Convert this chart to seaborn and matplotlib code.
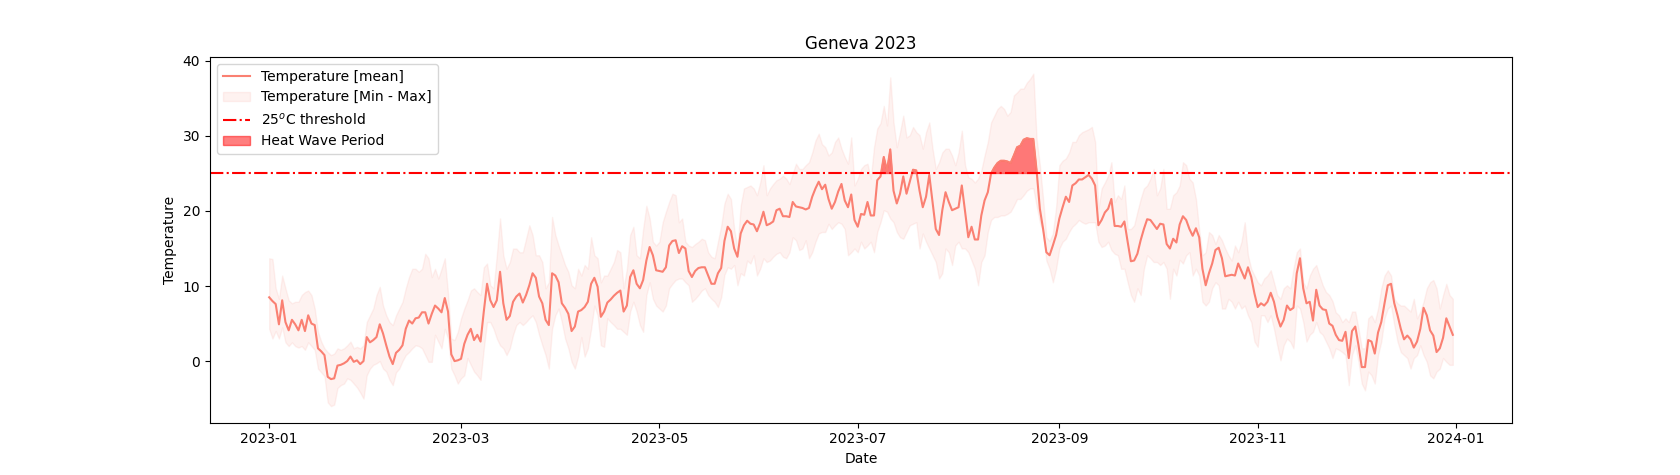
import numpy as np
import pandas as pd
import matplotlib
matplotlib.use("Agg")
import matplotlib.pyplot as plt
import matplotlib.dates as mdates
import seaborn as sns

dates = pd.date_range("2023-01-01", "2023-12-31", freq="D")

temp_mean = [
    8.5, 8.0, 7.6, 4.9, 8.1, 5.2, 4.1, 5.5, 4.9, 4.1,
    5.5, 4.0, 6.1, 5.0, 4.8, 1.7, 1.3, 0.8, -2.1, -2.4,
    -2.3, -0.6, -0.5, -0.3, 0.0, 0.6, -0.1, 0.1, -0.4, 0.0,
    3.2, 2.5, 2.8, 3.2, 4.9, 3.7, 2.1, 0.6, -0.4, 1.1,
    1.5, 2.1, 4.3, 5.4, 5.0, 5.7, 5.8, 6.5, 6.5, 5.0,
    6.3, 7.4, 7.0, 6.5, 8.4, 6.6, 0.9, 0.0, 0.1, 0.3,
    2.3, 3.5, 4.3, 2.8, 3.5, 2.6, 6.6, 10.3, 8.1, 7.2,
    8.1, 11.9, 7.7, 5.5, 6.0, 7.9, 8.6, 9.0, 7.8, 8.8,
    10.1, 11.7, 11.1, 8.6, 7.7, 5.5, 4.8, 11.7, 11.4, 10.5,
    7.7, 7.1, 6.3, 4.0, 4.6, 6.6, 6.8, 7.2, 7.9, 10.3,
    11.1, 9.9, 5.9, 6.6, 7.8, 8.2, 8.7, 9.1, 9.4, 6.6,
    7.4, 11.2, 12.1, 10.3, 9.7, 10.8, 13.4, 15.2, 14.1, 12.1,
    12.0, 11.9, 12.5, 15.4, 16.0, 16.1, 14.4, 15.3, 15.0, 12.0,
    11.2, 12.0, 12.4, 12.5, 12.5, 11.4, 10.3, 10.3, 11.7, 12.4,
    16.0, 17.9, 17.3, 15.0, 13.9, 17.0, 18.1, 18.7, 18.3, 18.2,
    17.3, 18.4, 19.9, 18.1, 18.3, 18.6, 20.1, 20.3, 19.3, 19.3,
    19.2, 21.2, 20.6, 20.5, 20.4, 20.2, 20.4, 21.9, 23.0, 23.9,
    22.9, 23.5, 21.6, 20.3, 21.2, 22.6, 23.6, 21.4, 20.5, 22.2,
    18.8, 17.9, 19.6, 19.5, 21.2, 19.4, 19.4, 24.1, 24.6, 27.2,
    25.4, 28.2, 22.7, 21.0, 22.3, 24.6, 22.3, 23.9, 25.5, 25.4,
    22.7, 20.5, 21.9, 24.8, 21.2, 17.6, 16.8, 20.1, 22.5, 21.2,
    20.1, 20.3, 20.5, 23.4, 19.9, 16.5, 17.9, 16.2, 16.2, 19.4,
    21.4, 22.5, 25.0, 25.8, 26.4, 26.7, 26.7, 26.6, 26.4, 27.4,
    28.5, 28.7, 29.5, 29.7, 29.6, 29.6, 25.4, 20.3, 17.6, 14.5,
    14.1, 15.4, 16.8, 19.0, 20.5, 21.9, 21.2, 23.4, 23.7, 24.2,
    24.2, 24.5, 24.8, 24.3, 23.4, 18.1, 18.8, 19.8, 20.3, 21.6,
    18.0, 18.0, 17.9, 18.6, 15.9, 13.3, 13.4, 14.3, 16.1, 17.6,
    18.9, 18.8, 18.2, 17.6, 18.3, 18.2, 15.6, 15.0, 16.3, 15.8,
    18.2, 19.3, 18.8, 17.6, 16.7, 17.7, 16.5, 12.3, 10.1, 11.7,
    13.0, 14.8, 15.1, 13.7, 11.3, 11.4, 11.5, 11.4, 13.0, 12.0,
    11.0, 12.5, 11.2, 9.0, 7.2, 7.7, 7.4, 7.9, 9.1, 7.9,
    5.9, 4.6, 5.5, 7.4, 6.8, 7.1, 11.7, 13.7, 9.7, 7.7,
    7.9, 5.4, 9.5, 7.4, 6.9, 6.8, 5.0, 4.7, 3.5, 2.8,
    2.7, 3.9, 0.4, 4.0, 4.6, 2.1, -0.8, -0.8, 2.8, 2.6,
    1.0, 3.8, 5.2, 7.7, 10.1, 10.3, 7.7, 6.1, 4.3, 2.9,
    3.4, 2.9, 1.8, 2.6, 4.3, 7.1, 6.1, 4.1, 3.4, 1.2,
    1.7, 3.1, 5.7, 4.6, 3.5,
]

temp_max = [
    13.7, 13.6, 9.7, 8.3, 11.4, 9.7, 8.1, 7.7, 7.9, 7.9,
    8.8, 9.2, 9.4, 8.8, 7.0, 3.9, 2.6, 1.7, 1.2, 0.8,
    1.0, 1.7, 1.5, 1.7, 2.1, 2.6, 1.7, 1.9, 1.7, 2.1,
    5.2, 6.1, 7.0, 8.8, 9.9, 7.4, 6.1, 5.2, 4.8, 6.1,
    7.0, 7.9, 9.7, 11.2, 12.3, 12.3, 11.9, 12.3, 14.3, 13.7,
    11.2, 12.3, 11.0, 12.3, 13.7, 9.0, 3.0, 2.8, 3.9, 5.7,
    7.0, 8.1, 9.4, 9.7, 9.2, 8.8, 12.5, 13.0, 10.1, 9.7,
    14.1, 19.0, 14.1, 12.3, 13.2, 15.0, 15.0, 14.5, 14.5, 16.3,
    18.1, 16.8, 14.1, 14.1, 13.2, 9.7, 10.5, 19.2, 16.8, 15.4,
    14.1, 12.8, 11.9, 10.1, 9.7, 12.3, 11.4, 12.8, 12.3, 16.5,
    14.1, 13.7, 10.5, 11.4, 11.4, 12.3, 13.2, 14.8, 14.5, 9.7,
    12.3, 16.8, 17.9, 14.1, 13.7, 17.6, 20.7, 19.0, 15.9, 15.4,
    15.9, 18.5, 19.9, 21.2, 22.3, 22.1, 18.5, 19.0, 15.9, 15.4,
    15.2, 15.6, 15.9, 16.3, 16.1, 14.5, 13.9, 13.7, 15.9, 18.0,
    21.0, 22.3, 21.6, 17.6, 15.0, 20.7, 23.0, 23.2, 23.4, 23.0,
    22.1, 23.8, 26.1, 22.1, 23.0, 23.6, 24.1, 24.3, 24.7, 24.3,
    23.6, 25.0, 26.3, 25.6, 25.6, 26.1, 26.5, 27.8, 29.4, 30.3,
    28.9, 28.5, 27.4, 27.8, 29.2, 29.8, 28.3, 27.2, 26.3, 29.8,
    23.4, 24.3, 25.6, 26.1, 26.3, 24.3, 28.5, 31.0, 31.7, 34.0,
    31.4, 37.8, 31.8, 28.5, 30.5, 32.7, 29.8, 30.1, 31.2, 30.5,
    30.1, 28.3, 30.5, 31.8, 28.3, 25.6, 26.5, 27.8, 28.3, 28.3,
    27.4, 26.1, 27.8, 30.7, 26.1, 24.5, 24.3, 23.8, 24.3, 25.4,
    27.4, 29.2, 31.8, 32.7, 33.6, 34.0, 33.6, 32.7, 33.2, 35.4,
    35.8, 36.3, 36.3, 37.1, 37.6, 38.3, 29.6, 26.1, 21.6, 16.5,
    16.0, 17.0, 20.5, 26.1, 26.7, 27.0, 27.8, 29.2, 29.2, 30.1,
    30.5, 30.7, 30.9, 31.2, 29.2, 20.3, 23.0, 23.8, 24.7, 26.5,
    21.2, 22.1, 21.6, 23.4, 17.6, 17.6, 18.1, 19.9, 21.6, 23.0,
    23.4, 24.3, 25.6, 22.1, 23.0, 25.6, 20.3, 20.3, 22.1, 22.5,
    23.4, 26.5, 26.1, 24.3, 23.8, 21.6, 17.5, 14.1, 14.5, 17.2,
    16.8, 15.6, 16.8, 16.1, 15.0, 14.1, 13.4, 15.4, 14.5, 15.9,
    18.5, 14.1, 12.3, 11.4, 10.5, 10.1, 11.0, 11.4, 12.1, 10.5,
    8.8, 8.3, 9.7, 10.1, 9.7, 12.3, 14.5, 15.0, 10.5, 9.7,
    11.4, 12.3, 12.8, 11.4, 10.1, 9.2, 8.8, 8.0, 6.5, 6.1,
    5.2, 5.7, 5.2, 6.6, 6.6, 4.3, 1.7, 1.7, 5.7, 6.1,
    5.2, 7.0, 9.7, 11.4, 12.1, 11.4, 8.3, 7.7, 7.4, 7.4,
    7.0, 6.6, 8.3, 5.7, 6.6, 7.9, 9.7, 10.5, 10.8, 9.7,
    7.0, 8.8, 10.3, 8.8, 8.3,
]

temp_min = [
    4.3, 3.0, 4.0, 3.0, 4.5, 2.5, 2.0, 2.5, 2.0, 1.8,
    2.0, 1.5, 2.5, 2.0, 1.5, -1.0, -1.5, -2.0, -5.5, -6.0,
    -5.8, -3.6, -3.2, -3.0, -2.3, -2.5, -3.0, -3.5, -4.2, -5.0,
    -1.9, -1.0, -0.5, -0.3, 0.0, -1.0, -1.4, -2.5, -3.2, -1.5,
    -1.0, 0.0, 0.8, 1.2, 1.7, 2.1, 2.0, 1.7, 0.8, -0.1,
    -0.1, 3.5, 2.6, 1.7, 4.3, 3.0, -1.0, -1.9, -3.0, -2.3,
    -1.9, 0.4, -0.5, -1.4, -1.9, -2.5, 1.7, 5.2, 5.2, 4.3,
    3.0, 2.1, 1.7, 0.8, 1.7, 3.5, 4.8, 5.2, 4.8, 5.2,
    5.7, 6.1, 5.2, 3.5, 2.1, 0.8, -1.0, 4.3, 6.1, 7.0,
    5.2, 3.0, 1.7, -0.1, -1.0, 0.6, 3.2, 0.6, 1.7, 4.3,
    7.4, 6.1, 2.1, 1.9, 5.7, 5.2, 4.8, 4.3, 4.3, 3.9,
    3.5, 6.6, 7.9, 6.6, 4.8, 3.9, 8.8, 10.5, 8.3, 7.4,
    7.0, 6.6, 7.4, 9.7, 10.3, 10.8, 11.0, 11.0, 10.5, 10.1,
    7.9, 8.3, 8.8, 9.4, 9.7, 8.8, 8.3, 7.9, 7.2, 8.5,
    11.5, 12.5, 12.3, 12.8, 10.1, 11.7, 11.4, 13.4, 13.0, 14.1,
    11.4, 12.3, 13.7, 13.2, 13.4, 13.9, 14.3, 14.5, 13.9, 13.7,
    14.5, 16.5, 16.1, 14.8, 15.0, 16.1, 13.7, 14.5, 15.9, 17.0,
    17.2, 17.2, 18.3, 17.6, 18.1, 18.5, 18.3, 17.6, 14.1, 14.5,
    15.0, 14.5, 15.9, 15.0, 15.4, 15.9, 14.5, 17.2, 18.5, 20.1,
    19.9, 19.0, 18.5, 17.2, 16.5, 16.3, 17.2, 18.1, 18.3, 18.5,
    15.0, 17.0, 15.9, 15.0, 14.1, 13.2, 11.0, 11.7, 15.0, 14.5,
    12.8, 15.4, 15.9, 15.0, 15.0, 14.5, 13.4, 12.3, 10.1, 13.2,
    14.1, 17.2, 18.8, 19.2, 19.2, 19.4, 19.4, 19.6, 19.9, 20.7,
    21.6, 21.6, 22.1, 22.7, 23.0, 23.0, 20.7, 18.5, 17.2, 13.4,
    12.3, 10.5, 12.3, 15.0, 15.9, 16.3, 17.2, 17.9, 18.3, 18.8,
    18.5, 18.3, 18.5, 18.5, 18.5, 15.9, 15.2, 15.4, 15.9, 14.8,
    14.3, 14.1, 12.3, 12.3, 10.5, 8.8, 7.9, 9.7, 8.8, 12.3,
    14.1, 13.7, 13.2, 13.2, 12.8, 13.2, 12.3, 8.3, 12.3, 11.4,
    13.5, 13.0, 14.1, 14.5, 11.4, 12.3, 11.4, 7.9, 7.4, 7.9,
    9.7, 10.5, 10.1, 7.0, 7.0, 8.3, 7.9, 7.0, 7.9, 7.0,
    7.4, 6.1, 5.2, 2.6, 1.9, 6.1, 6.1, 5.2, 6.1, 4.3,
    2.1, 0.1, 2.1, 3.0, 2.6, 1.7, 7.4, 7.0, 5.2, 2.6,
    3.5, 3.9, 5.2, 3.9, 3.5, 2.6, 1.7, 0.4, 1.7, 1.5,
    1.2, 0.8, -3.2, 0.8, 2.1, -0.1, -3.0, -3.9, -1.4, -1.9,
    -3.0, 0.8, 2.6, 5.7, 7.0, 7.4, 4.8, 2.6, 1.2, 0.8,
    0.4, -1.0, 0.4, 0.8, 2.1, 0.8, -0.1, -1.9, -2.3, -1.4,
    -1.0, 0.4, -0.1, -0.5, -0.5,
]

threshold = 25
title = "Geneva 2023"

df = pd.DataFrame({"Date": dates, "mean": temp_mean, "min": temp_min, "max": temp_max})

fig, ax = plt.subplots(figsize=(16.8, 4.75), dpi=100)
sns.lineplot(data=df, x="Date", y="mean", color="salmon", linewidth=1.5,
             ax=ax, label="Temperature [mean]")
ax.fill_between(df["Date"], df["min"], df["max"], color="salmon", alpha=0.1,
                label="Temperature [Min - Max]")
ax.axhline(threshold, color="red", linestyle="-.", linewidth=1.5,
           label="25$^o$C threshold")
ax.fill_between(df["Date"], threshold, df["mean"], where=df["mean"] > threshold,
                color="red", alpha=0.5, interpolate=True, label="Heat Wave Period")

ax.set_title(title)
ax.set_xlabel("Date")
ax.set_ylabel("Temperature")
ax.xaxis.set_major_locator(mdates.MonthLocator(bymonth=[1, 3, 5, 7, 9, 11]))
ax.xaxis.set_major_formatter(mdates.DateFormatter("%Y-%m"))
ax.legend(loc="upper left")

fig.savefig("out.png", dpi=100)
